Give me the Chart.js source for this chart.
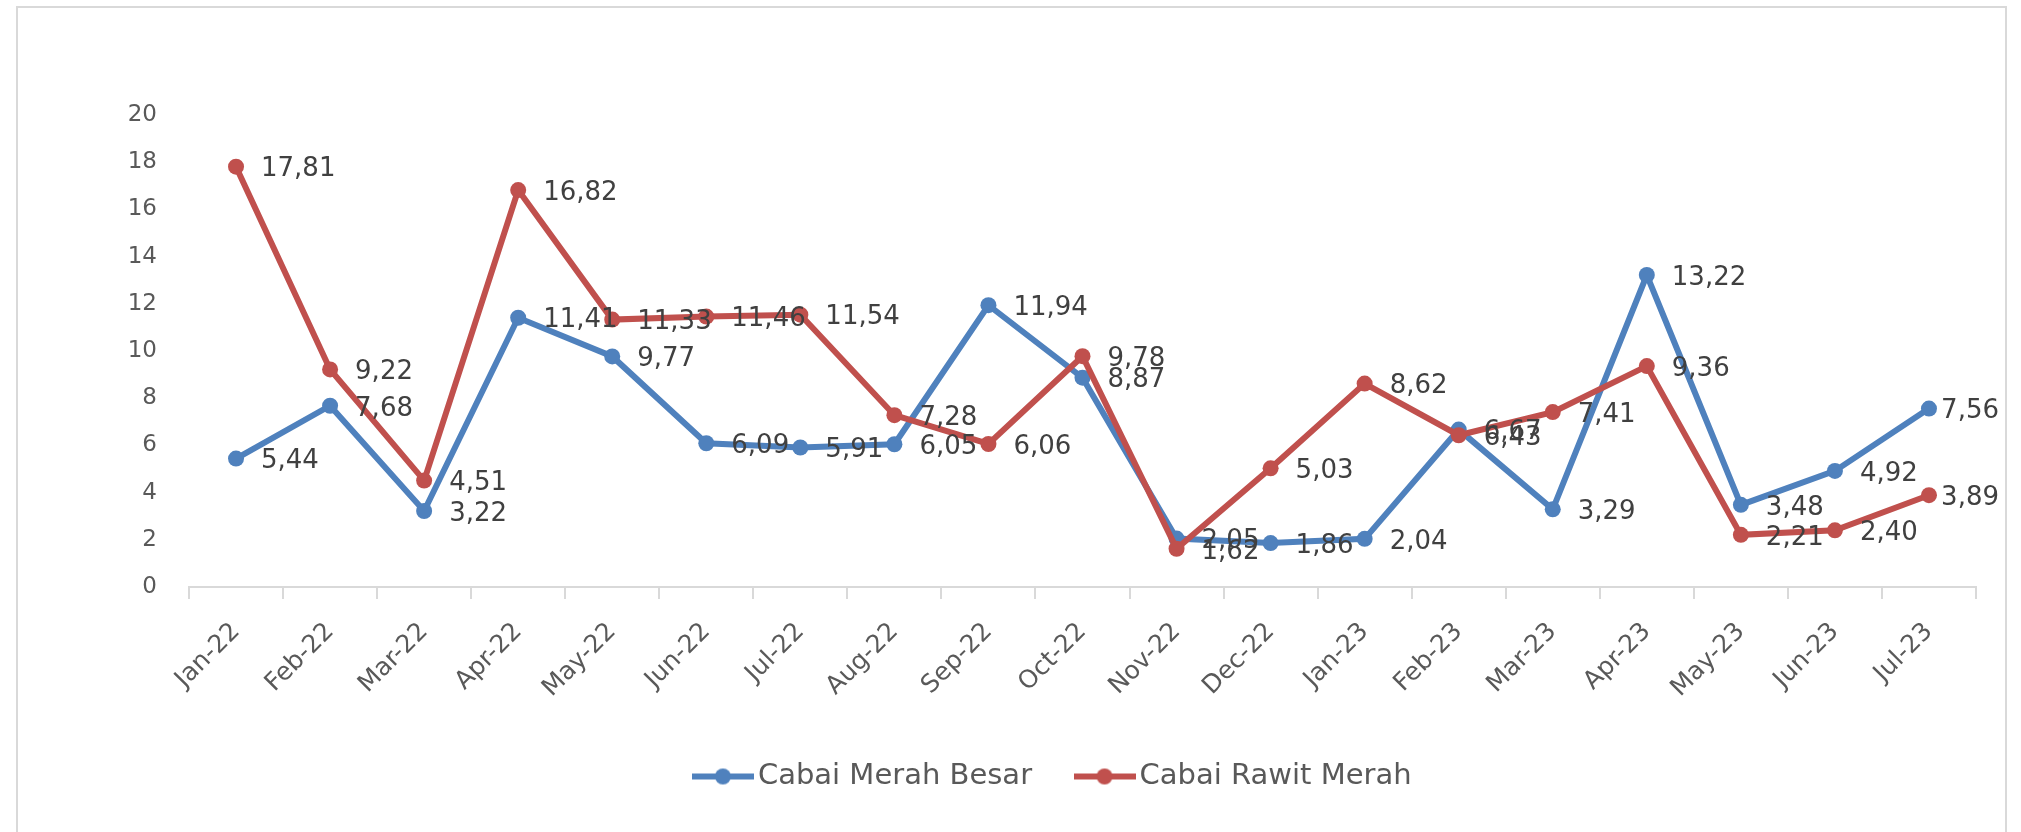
<!DOCTYPE html>
<html>
<head>
<meta charset="utf-8">
<title>Cabai Merah Besar & Cabai Rawit Merah</title>
<script src="https://cdn.jsdelivr.net/npm/chart.js@4/dist/chart.umd.min.js"></script>
<style>
    html, body { margin: 0; padding: 0; background: #ffffff; overflow: hidden; }
    .frame {
        position: absolute;
        left: 16px;
        top: 6px;
        width: 1991px;
        height: 860px;
        border: 2px solid #d9d9d9;
        box-sizing: border-box;
    }
    .frame canvas { display: block; }
</style>
</head>
<body>
<div class="frame">
    <canvas id="cabaiChart" width="1987" height="830"></canvas>
</div>
<script>
// Months on the x axis
const months = ['Jan-22', 'Feb-22', 'Mar-22', 'Apr-22', 'May-22', 'Jun-22', 'Jul-22', 'Aug-22', 'Sep-22', 'Oct-22',
    'Nov-22', 'Dec-22', 'Jan-23', 'Feb-23', 'Mar-23', 'Apr-23', 'May-23', 'Jun-23', 'Jul-23'];

// Series values
const merahBesar = [5.44, 7.68, 3.22, 11.41, 9.77, 6.09, 5.91, 6.05, 11.94, 8.87,
    2.05, 1.86, 2.04, 6.67, 3.29, 13.22, 3.48, 4.92, 7.56];
const rawitMerah = [17.81, 9.22, 4.51, 16.82, 11.33, 11.46, 11.54, 7.28, 6.06, 9.78,
    1.62, 5.03, 8.62, 6.43, 7.41, 9.36, 2.21, 2.40, 3.89];

// Y axis ticks
const yTicks = [0, 2, 4, 6, 8, 10, 12, 14, 16, 18, 20];

const BLUE = '#4f81bd';
const RED = '#c0504d';
const FONT = 'DejaVu Sans';

// small line-with-dot swatch for the legend
function legendSwatch(color) {
    const c = document.createElement('canvas');
    c.width = 62;
    c.height = 20;
    const g = c.getContext('2d');
    g.strokeStyle = color;
    g.lineWidth = 6;
    g.beginPath();
    g.moveTo(0, 10);
    g.lineTo(62, 10);
    g.stroke();
    g.fillStyle = color;
    g.beginPath();
    g.arc(31, 10, 8, 0, Math.PI * 2);
    g.fill();
    return c;
}

// value labels to the right of every point, decimal comma,
// pulled back in when they would run past the right edge
const valueLabels = {
    id: 'valueLabels',
    afterDatasetsDraw(chart) {
        const ctx = chart.ctx;
        ctx.save();
        ctx.font = '26px ' + FONT;
        ctx.fillStyle = '#404040';
        ctx.textBaseline = 'middle';
        ctx.textAlign = 'left';
        chart.data.datasets.forEach((ds, i) => {
            chart.getDatasetMeta(i).data.forEach((pt, j) => {
                const txt = ds.data[j].toFixed(2).replace('.', ',');
                const w = ctx.measureText(txt).width;
                const x = Math.min(pt.x + 25, chart.width - 6 - w);
                ctx.fillText(txt, x, pt.y + 3);
            });
        });
        ctx.restore();
    }
};

// the legend row sits a bit right of centre
const legendShift = {
    id: 'legendShift',
    afterLayout(chart) {
        chart.legend.left += 60;
        chart.legend.right += 60;
    }
};

const ctx = document.getElementById('cabaiChart').getContext('2d');
new Chart(ctx, {
    type: 'line',
    data: {
        labels: months,
        datasets: [{
                label: 'Cabai Merah Besar',
                data: merahBesar,
                borderColor: BLUE,
                backgroundColor: BLUE,
                borderWidth: 6,
                pointRadius: 8,
                pointBorderWidth: 0,
                tension: 0,
                order: 1
            }, {
                label: 'Cabai Rawit Merah',
                data: rawitMerah,
                borderColor: RED,
                backgroundColor: RED,
                borderWidth: 6,
                pointRadius: 8,
                pointBorderWidth: 0,
                tension: 0,
                order: 0
            }]
    },
    options: {
        responsive: false,
        animation: false,
        layout: {
            padding: { left: 0, right: 29, top: 107, bottom: 37 }
        },
        plugins: {
            tooltip: { enabled: false },
            legend: {
                position: 'bottom',
                labels: {
                    color: '#595959',
                    font: { family: FONT, size: 29 },
                    usePointStyle: true,
                    pointStyleWidth: 41,
                    padding: 52,
                    generateLabels(chart) {
                        return chart.data.datasets.map((ds, i) => ({
                            text: ds.label,
                            fontColor: '#595959',
                            pointStyle: legendSwatch(ds.borderColor),
                            strokeStyle: ds.borderColor,
                            fillStyle: ds.borderColor,
                            lineWidth: 0,
                            hidden: false,
                            datasetIndex: i
                        }));
                    }
                }
            }
        },
        scales: {
            x: {
                offset: true,
                grid: {
                    offset: true,
                    drawOnChartArea: false,
                    drawTicks: true,
                    tickLength: 12,
                    color: '#d9d9d9',
                    lineWidth: 2
                },
                border: { display: true, color: '#d9d9d9', width: 2 },
                ticks: {
                    color: '#595959',
                    font: { family: FONT, size: 25 },
                    minRotation: 45,
                    maxRotation: 45,
                    padding: 18,
                    autoSkip: false
                },
                afterFit(scale) {
                    scale.height = 123;
                }
            },
            y: {
                min: 0,
                max: 20,
                afterBuildTicks(scale) {
                    scale.ticks = yTicks.map(v => ({ value: v }));
                },
                grid: { display: false, drawTicks: false },
                border: { display: false },
                ticks: {
                    color: '#595959',
                    font: { family: FONT, size: 23 },
                    padding: 32
                },
                afterFit(scale) {
                    scale.width = 171;
                }
            }
        }
    },
    plugins: [valueLabels, legendShift]
});
</script>
</body>
</html>
